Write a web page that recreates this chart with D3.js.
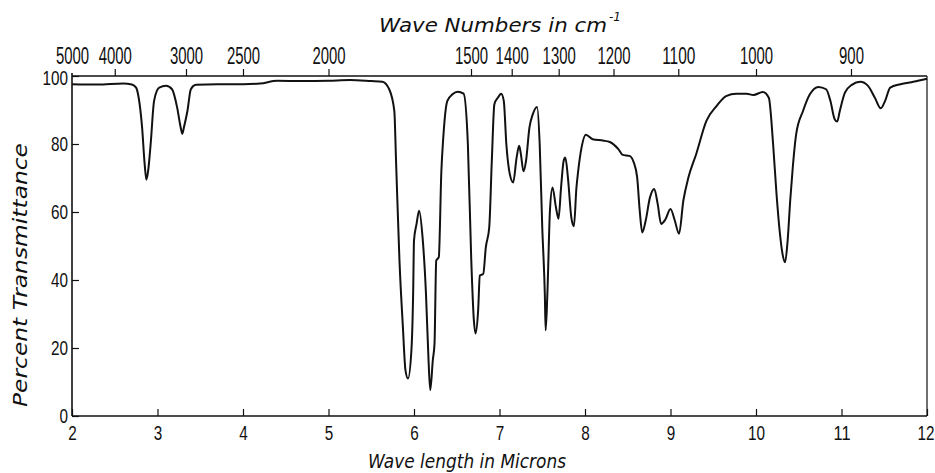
<!DOCTYPE html>
<html>
<head>
<meta charset="utf-8">
<script src="https://cdn.jsdelivr.net/npm/d3@7"></script>
<style>
  body { margin: 0; background: #fff; }
  svg { display: block; }
  text { fill: #111; }
  .num { font-family: "Liberation Sans", sans-serif; }
  .lbl { font-family: "DejaVu Sans", sans-serif; font-style: italic; }
</style>
</head>
<body>
<svg id="chart"></svg>
<script>
// wavelength in microns and percent transmittance
const wavelength = [
  2.00, 2.30, 2.60, 2.70, 2.75, 2.78, 2.82, 2.85, 2.87, 2.89, 2.92, 2.96,
  3.02, 3.10, 3.17, 3.23, 3.27, 3.29, 3.31, 3.35, 3.39, 3.45, 3.70, 4.00,
  4.20, 4.40, 4.70, 5.00, 5.25, 5.50, 5.63, 5.71, 5.77, 5.79, 5.83, 5.87,
  5.90, 5.93, 5.97, 5.99, 6.00, 6.03, 6.06, 6.10, 6.14, 6.17, 6.19, 6.22,
  6.24, 6.26, 6.29, 6.32, 6.34, 6.39, 6.45, 6.51, 6.58, 6.63, 6.67, 6.70,
  6.72, 6.75, 6.77, 6.81, 6.84, 6.88, 6.91, 6.94, 6.98, 7.02, 7.05, 7.08,
  7.12, 7.16, 7.20, 7.23, 7.25, 7.28, 7.31, 7.35, 7.39, 7.44, 7.47, 7.50,
  7.53, 7.54, 7.56, 7.59, 7.62, 7.66, 7.69, 7.72, 7.75, 7.77, 7.80, 7.84,
  7.87, 7.90, 7.92, 7.96, 8.01, 8.09, 8.21, 8.29, 8.39, 8.44, 8.52, 8.57,
  8.61, 8.64, 8.67, 8.71, 8.76, 8.81, 8.85, 8.89, 8.94, 9.00, 9.05, 9.10,
  9.15, 9.21, 9.30, 9.42, 9.54, 9.65, 9.77, 9.89, 9.97, 10.08, 10.15, 10.20,
  10.24, 10.28, 10.31, 10.34, 10.37, 10.40, 10.43, 10.47, 10.55, 10.63, 10.73, 10.82,
  10.87, 10.92, 10.95, 10.98, 11.04, 11.12, 11.22, 11.31, 11.39, 11.46, 11.51, 11.57,
  11.69, 11.84, 12.00
];
const transmittance = [
  97.6, 97.5, 97.8, 97.5, 96.6, 93.6, 84.8, 74.0, 69.5, 72.0, 80.0, 92.7,
  96.6, 97.1, 96.1, 90.7, 85.0, 83.0, 85.0, 89.7, 96.1, 97.4, 97.6, 97.6,
  97.8, 98.6, 98.5, 98.6, 98.8, 98.5, 98.3, 96.1, 89.7, 75.0, 45.7, 26.2,
  13.5, 11.0, 19.4, 36.0, 51.6, 56.5, 60.4, 52.6, 36.0, 16.4, 7.6, 16.4,
  21.3, 45.7, 46.7, 72.0, 81.0, 92.7, 94.6, 95.4, 94.8, 80.0, 45.7, 28.2,
  24.3, 31.0, 41.3, 41.8, 49.6, 55.5, 75.0, 91.7, 93.6, 94.8, 92.7, 80.0,
  71.2, 68.7, 76.0, 79.5, 77.0, 72.0, 75.0, 84.8, 88.8, 90.9, 80.0, 55.5,
  36.0, 25.2, 36.0, 60.4, 67.2, 61.4, 58.0, 67.2, 75.0, 76.0, 70.2, 58.4,
  55.8, 67.2, 72.0, 79.0, 82.7, 81.4, 81.0, 80.6, 78.5, 76.8, 76.5, 74.6,
  70.2, 60.4, 54.0, 57.5, 64.3, 66.8, 62.4, 56.5, 57.8, 60.9, 57.5, 53.6,
  63.3, 70.2, 77.0, 86.8, 91.2, 94.1, 94.8, 94.8, 94.4, 95.3, 93.6, 80.0,
  65.3, 53.6, 47.7, 45.2, 51.6, 63.3, 73.1, 82.9, 89.7, 94.6, 96.8, 96.1,
  92.7, 87.3, 86.6, 89.7, 95.1, 97.4, 98.3, 97.1, 93.6, 90.5, 92.7, 96.6,
  97.6, 98.3, 99.2
];

const micronTicks = [2, 3, 4, 5, 6, 7, 8, 9, 10, 11, 12];
const waveNumberTicks = [5000, 4000, 3000, 2500, 2000, 1500, 1400, 1300, 1200, 1100, 1000, 900];
const percentTicks = [0, 20, 40, 60, 80, 100];

const W = 935, H = 473;
const plot = { left: 72, right: 927, top: 76, bottom: 416 };

const svg = d3.select("#chart").attr("width", W).attr("height", H);

const x = d3.scaleLinear().domain([2, 12]).range([plot.left, plot.right]);
const y = d3.scaleLinear().domain([0, 100]).range([plot.bottom, plot.top]);

const data = wavelength.map((w, i) => ({ w, t: transmittance[i] }));

// condensed look for the numbers (no narrow font installed)
function squeeze(sel, perDigit) {
  sel.each(function () {
    const t = d3.select(this);
    t.attr("textLength", t.text().length * perDigit).attr("lengthAdjust", "spacingAndGlyphs");
  });
}

// frame: left, bottom, top, right
const frame = svg.append("g").attr("stroke", "#111").attr("fill", "none");
frame.append("line").attr("x1", plot.left).attr("x2", plot.left)
  .attr("y1", plot.top - 3).attr("y2", plot.bottom).attr("stroke-width", 1.6);
frame.append("line").attr("x1", plot.left).attr("x2", plot.right)
  .attr("y1", plot.bottom).attr("y2", plot.bottom).attr("stroke-width", 1.6);
frame.append("line").attr("x1", plot.left).attr("x2", plot.right)
  .attr("y1", plot.top).attr("y2", plot.top).attr("stroke-width", 1.4);
frame.append("line").attr("x1", plot.right).attr("x2", plot.right)
  .attr("y1", plot.top).attr("y2", plot.bottom).attr("stroke-width", 1.2);

// bottom axis, ticks point inward
const bottomAxis = d3.axisBottom(x).tickValues(micronTicks).tickSize(-7).tickPadding(10)
  .tickFormat(d3.format("d"));
svg.append("g").attr("transform", `translate(0,${plot.bottom})`).call(bottomAxis)
  .call(g => g.select(".domain").remove())
  .call(g => g.selectAll("line").attr("stroke", "#111").attr("stroke-width", 1.2))
  .call(g => g.selectAll("text").attr("class", "num").attr("font-size", 20).attr("fill", "#111")
    .call(squeeze, 8.5))
  .call(g => g.selectAll("text").filter(d => d === 12).attr("text-anchor", "end").attr("dx", 7));

// left axis, ticks point inward
const leftAxis = d3.axisLeft(y).tickValues(percentTicks).tickSize(-7).tickPadding(4);
svg.append("g").attr("transform", `translate(${plot.left},0)`).call(leftAxis)
  .call(g => g.select(".domain").remove())
  .call(g => g.selectAll("line").attr("stroke", "#111").attr("stroke-width", 1.2))
  .call(g => g.selectAll("text").attr("class", "num").attr("font-size", 20).attr("fill", "#111")
    .call(squeeze, 8.5))
  .call(g => g.selectAll("text").filter(d => d === 100).attr("dy", "0.42em"));

// top axis in wave numbers (cm^-1), placed at 10000 / wn microns
const topAxis = d3.axisTop(x).tickValues(waveNumberTicks.map(n => 10000 / n))
  .tickSize(7).tickPadding(5)
  .tickFormat((d, i) => waveNumberTicks[i]);
svg.append("g").attr("transform", `translate(0,${plot.top})`).call(topAxis)
  .call(g => g.select(".domain").remove())
  .call(g => g.selectAll("line").attr("stroke", "#111").attr("stroke-width", 1.2))
  .call(g => g.selectAll("line").filter(d => d === 2).remove())
  .call(g => g.selectAll("text").attr("class", "num").attr("font-size", 23).attr("fill", "#111")
    .call(squeeze, 8.3));

// spectrum trace
const line = d3.line().x(d => x(d.w)).y(d => y(d.t)).curve(d3.curveMonotoneX);
svg.append("path").datum(data).attr("d", line)
  .attr("fill", "none").attr("stroke", "#111").attr("stroke-width", 2)
  .attr("stroke-linejoin", "round");

// titles
svg.append("text").attr("class", "lbl").attr("x", 493).attr("y", 32)
  .attr("text-anchor", "middle").attr("font-size", 20)
  .attr("textLength", 228).attr("lengthAdjust", "spacingAndGlyphs")
  .text("Wave Numbers in cm");
svg.append("text").attr("class", "lbl").attr("x", 609).attr("y", 21)
  .attr("font-size", 12).text("-1");

svg.append("text").attr("class", "lbl").attr("x", 467).attr("y", 468)
  .attr("text-anchor", "middle").attr("font-size", 20)
  .attr("textLength", 198).attr("lengthAdjust", "spacingAndGlyphs")
  .text("Wave length in Microns");

svg.append("text").attr("class", "lbl")
  .attr("transform", "translate(27,275) rotate(-90)")
  .attr("text-anchor", "middle").attr("font-size", 19)
  .attr("textLength", 264).attr("lengthAdjust", "spacingAndGlyphs")
  .text("Percent Transmittance");
</script>
</body>
</html>
